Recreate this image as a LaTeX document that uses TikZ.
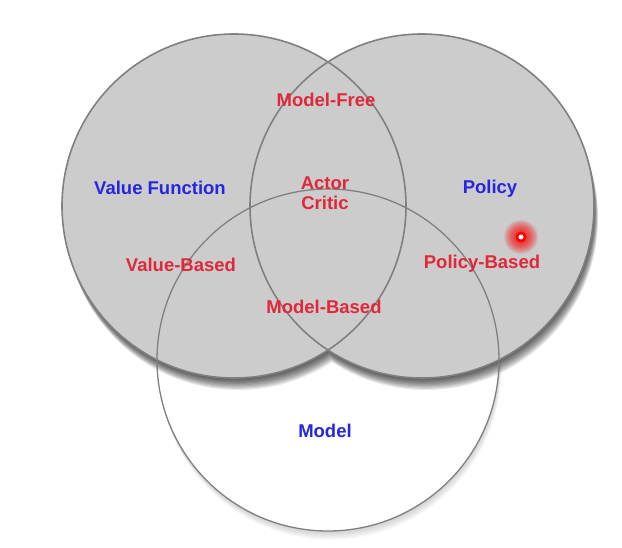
\documentclass[tikz,border=0pt]{standalone}
\usepackage{fontspec}
\setmainfont{Liberation Sans}
\usepackage{xcolor}
\usepackage{tikz}
\usetikzlibrary{positioning}

\definecolor{setgray}{HTML}{CCCCCC}
\definecolor{rimgray}{HTML}{808080}
\definecolor{setblue}{HTML}{2626E0}
\definecolor{areared}{HTML}{E0283A}

\begin{document}
\begin{tikzpicture}[x=1pt, y=-1pt,
  setlabel/.style={font=\fontsize{18.5}{20}\selectfont\bfseries, text=setblue, inner sep=0pt},
  arealabel/.style={font=\fontsize{18.5}{20}\selectfont\bfseries, text=areared, inner sep=0pt, align=center},
  rim/.style={draw=rimgray, line width=1.6pt}]
\useasboundingbox (0,0) rectangle (622,548);
% Model circle and its shadow
\foreach \i in {1,...,8}
  \fill[black, opacity=0.025] (328+0.3*\i,360+1.1*\i) circle (171);
\fill[white] (328,360) circle (171);
% Shadow of the two upper circles
\foreach \i in {1,...,10}
  \fill[black, opacity=0.09] (234+0.4*\i,206+1.2*\i) circle (172) (422+0.4*\i,206+1.2*\i) circle (172);
% Value function and policy
\fill[setgray] (234,206) circle (172) (422,206) circle (172);
% Outlines
\draw[rim] (234,206) circle (172);
\draw[rim] (422,206) circle (172);
\draw[rim, line width=1.3pt] (328,360) circle (171);
% Labels
\node[setlabel] (value) at (160,188) {Value Function};
\node[setlabel] (policy) at (490,189) {Policy};
\node[setlabel] (model) at (325,431) {Model};
\node[arealabel] (free) at (326,100) {Model-Free};
\node[arealabel] (critic) at (325,193) {Actor\\Critic};
\node[arealabel] (vbased) at (181,265) {Value-Based};
\node[arealabel] (pbased) at (482,264) {Policy-Based};
\node[arealabel] (mbased) at (324,307) {Model-Based};
% Pointer dot
\coordinate (pointer) at (521,237);
\foreach \r in {17,16,...,4}
  \fill[red, opacity=0.09] (pointer) circle (\r);
\fill[red] (pointer) circle (5.5);
\fill[white] (pointer) circle (2.5);
\end{tikzpicture}
\end{document}
